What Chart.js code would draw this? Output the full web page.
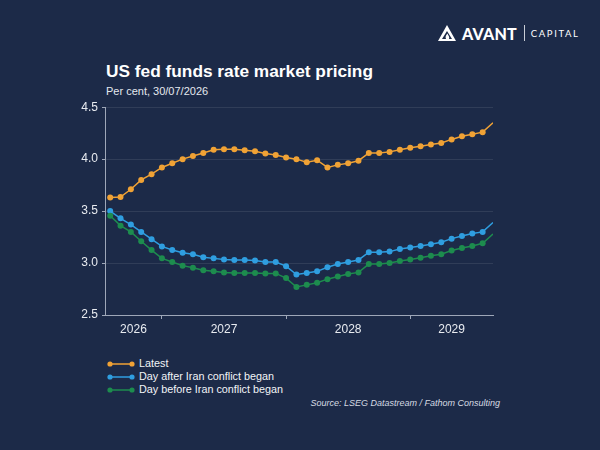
<!DOCTYPE html>
<html>

<head>
    <meta charset="utf-8" />
    <style>
        body { margin: 0; background: #1c2a48; font-family: "Liberation Sans", Arial, sans-serif; }
        #page { position: relative; width: 600px; height: 450px; overflow: hidden; background: #1c2a48; }
        .abs { position: absolute; white-space: nowrap; }
        #title { left: 106px; top: 63px; font-size: 17.3px; line-height: 17.3px; font-weight: bold; color: #ffffff; }
        #subtitle { left: 106px; top: 86px; font-size: 11px; line-height: 11px; color: #e4e8ee; }
        #chartBox { left: 60px; top: 96px; }
        .legRow { left: 107px; height: 13px; display: flex; align-items: center; font-size: 10.8px; line-height: 13px; color: #f2f4f7; }
        .legRow svg { margin-right: 4px; }
        #source { right: 100px; top: 399px; font-size: 9px; line-height: 9px; font-style: italic; color: #d6dbe3; }
        #logo { left: 438px; top: 24px; height: 18px; display: flex; align-items: center; color: #ffffff; }
        #logo .avant { font-family: Lato, "Liberation Sans", sans-serif; font-weight: 900; font-size: 16px; letter-spacing: 0.2px; margin-left: 6px; }
        #logo .sep { width: 1px; height: 16px; background: #c8cdd6; margin: 0 6px 0 7px; }
        #logo .cap { font-family: Lato, "Liberation Sans", sans-serif; font-size: 9.5px; letter-spacing: 1.6px; }
    </style>
</head>

<body>
    <div id="page">
        <div id="logo" class="abs">
            <svg width="18" height="16" viewBox="0 0 18 16">
                <path d="M9 0 L18 16 L0 16 Z M9 6 L4 14 L8 14 C7 12 8 10 9.5 8.5 C10 10.5 12 11.5 11 14 L14 14 Z" fill="#ffffff" fill-rule="evenodd" />
            </svg>
            <span class="avant">AVANT</span><span class="sep"></span><span class="cap">CAPITAL</span>
        </div>
        <div id="title" class="abs">US fed funds rate market pricing</div>
        <div id="subtitle" class="abs">Per cent, 30/07/2026</div>
        <div id="chartBox" class="abs">
            <canvas id="rateChart" width="440" height="250"></canvas>
        </div>
        <div id="legend"></div>
        <div id="source" class="abs">Source: LSEG Datastream / Fathom Consulting</div>
    </div>

    <script src="https://cdn.jsdelivr.net/npm/chart.js@4.4.1/dist/chart.umd.min.js"></script>

    <script>
        // monthly contract months
        const months = [
            '2026-08', '2026-09', '2026-10', '2026-11', '2026-12',
            '2027-01', '2027-02', '2027-03', '2027-04', '2027-05', '2027-06',
            '2027-07', '2027-08', '2027-09', '2027-10', '2027-11', '2027-12',
            '2028-01', '2028-02', '2028-03', '2028-04', '2028-05', '2028-06',
            '2028-07', '2028-08', '2028-09', '2028-10', '2028-11', '2028-12',
            '2029-01', '2029-02', '2029-03', '2029-04', '2029-05', '2029-06',
            '2029-07', '2029-08', '2029-09'
        ];

        const latest = [
            3.63, 3.635, 3.71, 3.80, 3.855, 3.92, 3.96, 4.00, 4.03, 4.06, 4.09,
            4.095, 4.095, 4.085, 4.075, 4.055, 4.04, 4.015, 4.00, 3.97, 3.99,
            3.92, 3.945, 3.96, 3.985, 4.06, 4.06, 4.07, 4.09, 4.11, 4.125,
            4.14, 4.155, 4.19, 4.22, 4.24, 4.26, 4.35
        ];

        const dayAfter = [
            3.50, 3.43, 3.37, 3.30, 3.23, 3.16, 3.125, 3.10, 3.085, 3.055, 3.045,
            3.035, 3.03, 3.03, 3.025, 3.01, 3.01, 2.97, 2.89, 2.905, 2.92,
            2.96, 2.99, 3.01, 3.03, 3.105, 3.105, 3.11, 3.135, 3.15, 3.165,
            3.18, 3.20, 3.235, 3.26, 3.285, 3.30, 3.39
        ];

        const dayBefore = [
            3.455, 3.36, 3.30, 3.21, 3.125, 3.045, 3.01, 2.975, 2.955, 2.93, 2.92,
            2.91, 2.905, 2.905, 2.905, 2.90, 2.90, 2.855, 2.77, 2.79, 2.81,
            2.845, 2.87, 2.895, 2.91, 2.99, 2.99, 3.00, 3.02, 3.035, 3.05,
            3.07, 3.085, 3.12, 3.145, 3.165, 3.19, 3.28
        ];

        const seriesNames = ['Latest', 'Day after Iran conflict began', 'Day before Iran conflict began'];
        const seriesColors = ['#f0a235', '#2f9ee0', '#1d8c4e'];
        const yearLabels = ['2026', '2027', '2028', '2029'];
        const yTicks = [2.5, 3.0, 3.5, 4.0, 4.5];

        // month index counted from Jan 2026
        function monthIndex(s) {
            var p = s.split('-');
            return (parseInt(p[0]) - 2026) * 12 + parseInt(p[1]) - 1;
        }

        function toPoints(values) {
            return values.map(function (v, i) { return { x: monthIndex(months[i]), y: v }; });
        }

        const xMin = monthIndex(months[0]) - 0.5;
        const xMax = monthIndex(months[months.length - 1]);

        // year label sits in the middle of the visible part of each year
        let yearCentres = {};
        yearLabels.forEach(function (y, i) {
            let a = Math.max(xMin, i * 12);
            let b = Math.min(xMax, i * 12 + 12);
            yearCentres[(a + b) / 2] = y;
        });
        const yearStarts = [12, 24, 36];

        const axisColor = '#9ea7b8';
        const textColor = '#e8ebf0';

        const allSeries = [latest, dayAfter, dayBefore];
        const lastIdx = months.length - 1;

        let rateChart = new Chart(document.getElementById('rateChart'), {
            type: 'line',
            data: {
                datasets: allSeries.map(function (vals, i) {
                    return {
                        label: seriesNames[i],
                        data: toPoints(vals),
                        borderColor: seriesColors[i],
                        backgroundColor: seriesColors[i],
                        borderWidth: 1.5,
                        pointRadius: function (ctx) { return ctx.dataIndex === lastIdx ? 0 : 3; },
                        pointBorderWidth: 0,
                        tension: 0,
                        clip: { left: 5, top: 5, right: 0, bottom: 5 }
                    };
                }).reverse()
            },
            options: {
                responsive: false,
                animation: false,
                layout: { autoPadding: false, padding: { top: 8, right: 7, left: 0, bottom: 0 } },
                plugins: {
                    legend: { display: false },
                    tooltip: { enabled: false }
                },
                scales: {
                    x: {
                        type: 'linear',
                        min: xMin,
                        max: xMax,
                        afterBuildTicks: function (scale) {
                            let vals = Object.keys(yearCentres).map(Number).concat(yearStarts);
                            vals.sort(function (a, b) { return a - b; });
                            scale.ticks = vals.map(function (v) { return { value: v }; });
                        },
                        afterFit: function (scale) { scale.height = 31; },
                        ticks: {
                            autoSkip: false,
                            maxRotation: 0,
                            padding: 3,
                            color: textColor,
                            font: { family: 'Liberation Sans', size: 12 },
                            callback: function (v) { return yearCentres[v] || ''; }
                        },
                        grid: {
                            drawOnChartArea: false,
                            drawTicks: true,
                            tickLength: 4,
                            tickColor: function (ctx) {
                                return ctx.tick && yearStarts.indexOf(ctx.tick.value) >= 0 ? axisColor : 'rgba(0,0,0,0)';
                            }
                        },
                        border: { color: axisColor, width: 1 }
                    },
                    y: {
                        min: 2.5,
                        max: 4.5,
                        afterBuildTicks: function (scale) {
                            scale.ticks = yTicks.map(function (v) { return { value: v }; });
                        },
                        afterFit: function (scale) { scale.width = 45; },
                        ticks: {
                            padding: 4,
                            color: textColor,
                            font: { family: 'Liberation Sans', size: 12 },
                            callback: function (v) { return v.toFixed(1); }
                        },
                        grid: {
                            color: 'rgba(255,255,255,0.09)',
                            tickColor: axisColor,
                            tickLength: 3,
                            lineWidth: 1
                        },
                        border: { color: axisColor, width: 1 }
                    }
                }
            }
        });

        // legend: small line sample with dots at both ends
        let legend = document.getElementById('legend');
        seriesNames.forEach(function (name, i) {
            let row = document.createElement('div');
            row.className = 'abs legRow';
            row.style.top = (357 + i * 13) + 'px';
            row.innerHTML = '<svg width="28" height="8"><line x1="3" y1="4" x2="25" y2="4" stroke="' + seriesColors[i] +
                '" stroke-width="1.5"/><circle cx="3" cy="4" r="2.6" fill="' + seriesColors[i] +
                '"/><circle cx="25" cy="4" r="2.6" fill="' + seriesColors[i] + '"/></svg><span>' + name + '</span>';
            legend.appendChild(row);
        });
    </script>
</body>

</html>
